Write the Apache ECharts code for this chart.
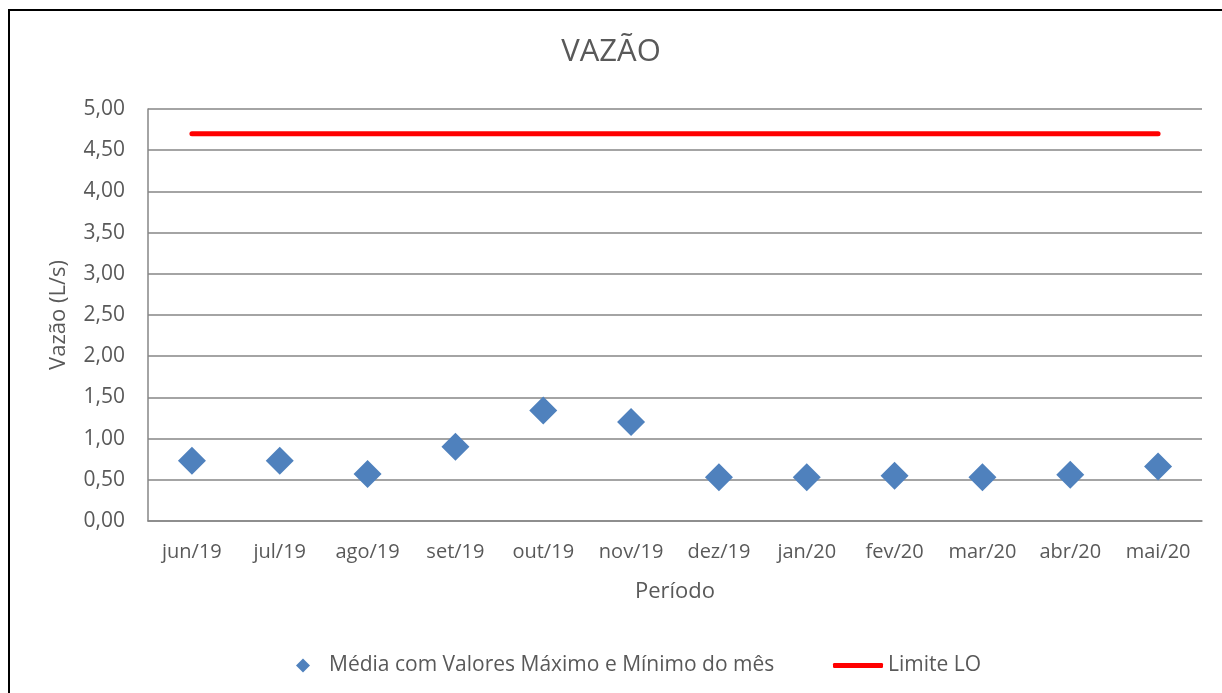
<!DOCTYPE html>
<html>
<head>
<meta charset="utf-8">
<script src="https://cdn.jsdelivr.net/npm/echarts@6/dist/echarts.min.js"></script>
<style>
  html, body { margin: 0; padding: 0; background: #fff; }
  #chart { width: 1222px; height: 693px; }
</style>
</head>
<body>
<div id="chart"></div>
<script>
// Monthly periods (jun/19 – mai/20)
const periodos = ['jun/19', 'jul/19', 'ago/19', 'set/19', 'out/19', 'nov/19',
                  'dez/19', 'jan/20', 'fev/20', 'mar/20', 'abr/20', 'mai/20'];
// Mean monthly flow (L/s)
const vazaoMedia = [0.73, 0.73, 0.57, 0.90, 1.34, 1.20, 0.53, 0.53, 0.55, 0.53, 0.56, 0.66];
// Licence limit (L/s)
const limiteLO = [4.70, 4.70, 4.70, 4.70, 4.70, 4.70, 4.70, 4.70, 4.70, 4.70, 4.70, 4.70];

const FONT = '"Open Sans", Lato, sans-serif';
const TXT = '#595959';
const GRID = '#868686';

const chart = echarts.init(document.getElementById('chart'), null, { renderer: 'canvas' });

chart.setOption({
  backgroundColor: '#ffffff',
  animation: false,
  title: {
    text: 'VAZÃO',
    left: 'center',
    top: 32,
    textStyle: { fontFamily: FONT, fontSize: 31, fontWeight: 'normal', color: TXT }
  },
  graphic: [
    { type: 'line', shape: { x1: 9, y1: 10, x2: 9, y2: 693 }, style: { stroke: '#000', lineWidth: 2 } },
    { type: 'line', shape: { x1: 8, y1: 10, x2: 1222, y2: 10 }, style: { stroke: '#000', lineWidth: 2 } }
  ],
  legend: [
    {
      data: [{ name: 'Média com Valores Máximo e Mínimo do mês', icon: 'diamond' }],
      left: 291,
      top: 650,
      itemWidth: 14,
      itemHeight: 14,
      textStyle: { fontFamily: FONT, fontSize: 21, color: TXT, padding: [0, 0, 0, 14] }
    },
    {
      data: [{ name: 'Limite LO', icon: 'roundRect' }],
      left: 828,
      top: 650,
      itemWidth: 50,
      itemHeight: 5,
      textStyle: { fontFamily: FONT, fontSize: 21, color: TXT }
    }
  ],
  grid: { left: 148, right: 20, top: 109, bottom: 172, containLabel: false },
  xAxis: {
    type: 'category',
    data: periodos,
    boundaryGap: true,
    name: 'Período',
    nameLocation: 'middle',
    nameGap: 60,
    nameTextStyle: { fontFamily: FONT, fontSize: 22, color: TXT },
    axisLine: { show: true, lineStyle: { color: GRID, width: 1.5 } },
    axisTick: { show: false },
    axisLabel: { fontFamily: FONT, fontSize: 20, color: TXT, margin: 21, interval: 0 },
    splitLine: { show: false }
  },
  yAxis: {
    type: 'value',
    min: 0,
    max: 5,
    interval: 0.5,
    name: 'Vazão (L/s)',
    nameLocation: 'middle',
    nameGap: 78,
    nameRotate: 90,
    nameTextStyle: { fontFamily: FONT, fontSize: 22, color: TXT },
    axisLine: { show: true, lineStyle: { color: GRID, width: 1.5 } },
    axisTick: { show: false },
    axisLabel: {
      fontFamily: FONT, fontSize: 21, color: TXT, margin: 23,
      formatter: v => v.toFixed(2).replace('.', ',')
    },
    splitLine: { show: true, lineStyle: { color: GRID, width: 1.5 } }
  },
  series: [
    {
      name: 'Média com Valores Máximo e Mínimo do mês',
      type: 'scatter',
      data: vazaoMedia,
      symbol: 'diamond',
      symbolSize: [28, 28],
      itemStyle: { color: '#4F81BD', opacity: 1 },
      z: 3
    },
    {
      name: 'Limite LO',
      type: 'line',
      data: limiteLO,
      symbol: 'none',
      showSymbol: false,
      lineStyle: { color: '#FF0000', width: 5, cap: 'round' },
      itemStyle: { color: '#FF0000' },
      z: 2
    }
  ]
});
</script>
</body>
</html>
